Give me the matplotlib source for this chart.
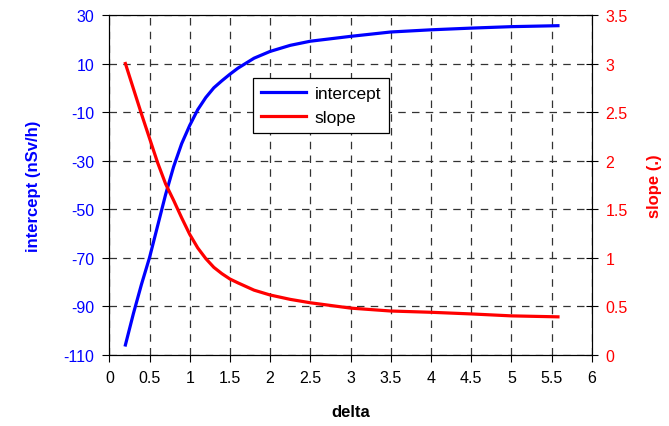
import numpy as np
import matplotlib.pyplot as plt

plt.rcParams['font.family'] = ['Liberation Sans', 'DejaVu Sans']
plt.rcParams['axes.unicode_minus'] = False

# vrednosti ocitane sa grafika
delta = [0.2, 0.3, 0.4, 0.5, 0.6, 0.7, 0.8, 0.9, 1.0, 1.1, 1.2, 1.3, 1.4, 1.5,
         1.6, 1.8, 2.0, 2.25, 2.5, 3.0, 3.5, 4.0, 4.5, 5.0, 5.58]
intercept = [-106, -93, -81, -70, -57, -44, -32.5, -23, -15.5, -9, -4, 0, 2.9, 5.6,
             8.1, 12.2, 15, 17.5, 19.2, 21.2, 23, 23.9, 24.6, 25.2, 25.6]
slope = [3.0, 2.74, 2.48, 2.23, 1.98, 1.76, 1.59, 1.41, 1.24, 1.10, 0.99, 0.90, 0.835, 0.78,
         0.74, 0.665, 0.615, 0.57, 0.535, 0.48, 0.45, 0.437, 0.42, 0.40, 0.39]

fig = plt.figure(figsize=(6.69, 4.27), dpi=100)
ax = fig.add_axes([0.1634, 0.167, 0.8845 - 0.1634, 0.9625 - 0.167])
ax2 = ax.twinx()

l1, = ax.plot(delta, intercept, color='#0000ff', lw=2.3, label='intercept')
l2, = ax2.plot(delta, slope, color='#ff0000', lw=2.3, label='slope')

ax.set_xlim(0, 6)
ax.set_ylim(-110, 30)
ax.set_xticks(np.arange(0, 6.01, 0.5))
ax.set_xticklabels(['0', '0.5', '1', '1.5', '2', '2.5', '3', '3.5', '4', '4.5', '5', '5.5', '6'])
ax.set_yticks(np.arange(-110, 31, 20))
ax2.set_ylim(0, 3.5)
ax2.set_yticks(np.arange(0, 3.51, 0.5))
ax2.set_yticklabels(['0', '0.5', '1', '1.5', '2', '2.5', '3', '3.5'])

ax.grid(True, color='#333333', ls=(0, (6, 5)), lw=0.9)
ax.tick_params(axis='x', direction='out', length=5, labelsize=11.5, colors='black', pad=6)
ax.tick_params(axis='y', direction='out', length=5, labelsize=11.5, labelcolor='#0000ff', pad=6)
ax2.tick_params(axis='y', direction='inout', length=8, labelsize=11.5, labelcolor='#ff0000', pad=6)

ax.set_xlabel('delta', fontsize=12, fontweight='bold', labelpad=14)
ax.set_ylabel('intercept (nSv/h)', fontsize=12, fontweight='bold', color='#0000ff', labelpad=16)
ax2.set_ylabel('slope (.)', fontsize=12, fontweight='bold', color='#ff0000', labelpad=14)

leg = ax.legend(handles=[l1, l2], loc='upper left', bbox_to_anchor=(0.28, 0.84),
                fontsize=12.5, fancybox=False, framealpha=1, edgecolor='black',
                handlelength=2.6, borderpad=0.45, labelspacing=0.5, handletextpad=0.5)
leg.get_frame().set_linewidth(0.9)

plt.savefig('out.png', dpi=100)
